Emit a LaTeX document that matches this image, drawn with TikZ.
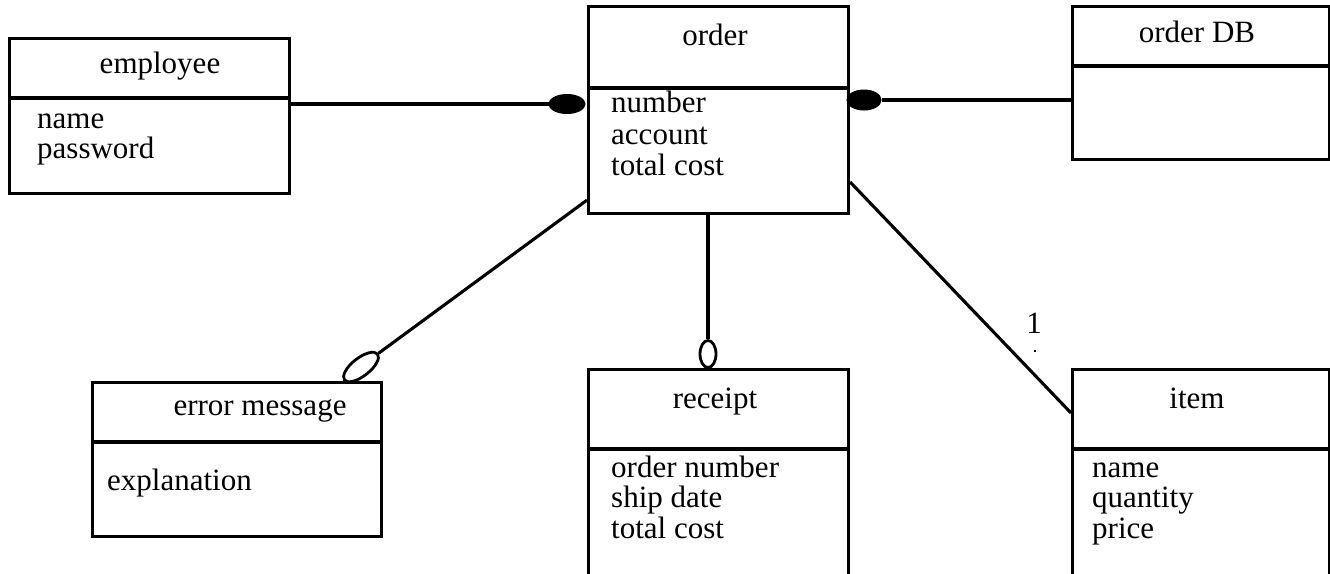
\documentclass[tikz,border=0pt]{standalone}
\usepackage{fontspec}
\setmainfont{Liberation Serif}
\usetikzlibrary{shapes.geometric,calc}
\begin{document}
\begin{tikzpicture}[x=1pt,y=-1pt,
  box/.style={draw, rectangle, line width=3.1pt, inner sep=0pt, anchor=north west},
  divider/.style={line width=3.1pt},
  conn/.style={line width=3.1pt},
  lbl/.style={inner sep=0pt, font=\fontsize{31}{31}\selectfont},
  title/.style={lbl, anchor=base},
  attr/.style={lbl, anchor=base west},
  solidend/.style={ellipse, draw, fill=black, line width=1pt, inner sep=0pt},
  hollowend/.style={ellipse, draw, fill=white, line width=2.8pt, inner sep=0pt}]
\useasboundingbox (0,0) rectangle (1330,573);

% class boxes
\node[box, minimum width=280pt, minimum height=155pt] (emp) at (8,37) {};
\node[box, minimum width=260pt, minimum height=207pt] (order) at (587,5) {};
\node[box, minimum width=257pt, minimum height=153pt] (odb) at (1071,5) {};
\node[box, minimum width=289pt, minimum height=154pt] (err) at (91,381) {};
\node[box, minimum width=260pt, minimum height=252pt] (rec) at (587,368) {};
\node[box, minimum width=257pt, minimum height=252pt] (item) at (1071,368) {};

% dividers
\draw[divider] (emp.west |- 0,98) -- (emp.east |- 0,98);
\draw[divider] (order.west |- 0,88) -- (order.east |- 0,88);
\draw[divider] (odb.west |- 0,66) -- (odb.east |- 0,66);
\draw[divider] (err.west |- 0,442) -- (err.east |- 0,442);
\draw[divider] (rec.west |- 0,449) -- (rec.east |- 0,449);
\draw[divider] (item.west |- 0,449) -- (item.east |- 0,449);

% titles
\node[title] (empT) at (160,73) {employee};
\node[title] (orderT) at (715,45) {order};
\node[title] (odbT) at (1197,42) {order DB};
\node[title] (errT) at (260,415) {error message};
\node[title] (recT) at (715,408) {receipt};
\node[title] (itemT) at (1197,408) {item};

% attributes
\node[attr] (empA1) at (37,128) {name};
\node[attr] (empA2) at (37,158) {password};
\node[attr] (ordA1) at (611,112) {number};
\node[attr] (ordA2) at (611,144) {account};
\node[attr] (ordA3) at (611,175) {total cost};
\node[attr] (errA1) at (107,490) {explanation};
\node[attr] (recA1) at (611,477) {order number};
\node[attr] (recA2) at (611,507) {ship date};
\node[attr] (recA3) at (611,538) {total cost};
\node[attr] (itemA1) at (1092,477) {name};
\node[attr] (itemA2) at (1092,507) {quantity};
\node[attr] (itemA3) at (1092,538) {price};

% association ends
\node[solidend, minimum width=36pt, minimum height=19pt] (endEmp) at (567,104) {};
\node[solidend, minimum width=34pt, minimum height=20pt] (endDB) at (864,100) {};
\node[hollowend, minimum width=16pt, minimum height=27pt] (endRec) at (708,354) {};
\node[hollowend, minimum width=42pt, minimum height=18pt, rotate=38] (endErr) at (361,367) {};

% connectors
\draw[conn] (emp.east |- endEmp) -- (endEmp.west);
\draw[conn] (endDB.east) -- (odb.west |- endDB);
\draw[conn] (order.south -| endRec) -- (endRec.north);
\draw[conn] (endErr.east) -- ($(order.south west)+(0,-15)$);
\draw[conn] ($(order.north east)+(0,177)$) -- ($(item.north west)+(0,45)$);

% multiplicity
\node[title] (mult) at (1034,333) {1};
\node[fill=black, inner sep=0.9pt] (tick) at (1035,351) {};
\end{tikzpicture}
\end{document}
